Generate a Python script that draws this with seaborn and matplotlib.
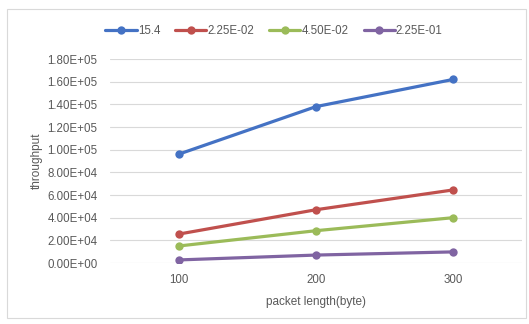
import matplotlib
matplotlib.use("Agg")
from matplotlib import pyplot as plt
from matplotlib.ticker import FuncFormatter
from matplotlib.patches import Rectangle
import seaborn as sns
import pandas as pd

# dados
packet_length = ["100", "200", "300"]
series_names = ["15.4", "2.25E-02", "4.50E-02", "2.25E-01"]
thr_154 = [96000, 138000, 162000]
thr_225e2 = [25500, 47000, 64500]
thr_450e2 = [15000, 28500, 40000]
thr_225e1 = [2700, 7000, 9800]
cores = ["#4472C4", "#C0504D", "#9BBB59", "#8064A2"]

df = pd.DataFrame({
    "packet length(byte)": packet_length * 4,
    "throughput": thr_154 + thr_225e2 + thr_450e2 + thr_225e1,
    "serie": [s for s in series_names for _ in packet_length],
})

sns.set_style("white")
plt.rcParams["font.family"] = ["Liberation Sans", "DejaVu Sans"]
cinza = "#595959"

fig = plt.figure(figsize=(5.29, 3.24), dpi=100)
ax = fig.add_axes([110 / 529, 1 - 263 / 324, 412 / 529, 204 / 324])

sns.lineplot(data=df, x="packet length(byte)", y="throughput", hue="serie",
             hue_order=series_names, palette=cores, marker="o", markersize=6,
             markeredgewidth=0, linewidth=2.3, sort=False, ax=ax)

ax.set_xlim(-0.5, 2.5)
ax.set_ylim(0, 180000)
ax.set_yticks(range(0, 180001, 20000))
ax.yaxis.set_major_formatter(FuncFormatter(lambda v, p: f"{v:.2E}"))
ax.grid(axis="y", color="#D9D9D9", linewidth=0.8)
ax.set_axisbelow(True)
for s in ax.spines.values():
    s.set_visible(False)
ax.tick_params(axis="both", length=0, labelsize=8.3, colors=cinza, pad=9)
ax.tick_params(axis="x", pad=8)
ax.set_xlabel("packet length(byte)", fontsize=8.5, color=cinza, labelpad=7)
ax.set_ylabel("throughput", fontsize=8.5, color=cinza, labelpad=3)

handles, labels = ax.get_legend_handles_labels()
ax.legend(handles, labels, loc="center", bbox_to_anchor=(274 / 529, 1 - 31 / 324),
          bbox_transform=fig.transFigure, ncol=4, frameon=False, fontsize=8.3,
          handlelength=2.7, handletextpad=0.1, columnspacing=1.3, labelcolor=cinza)

# borda da area do grafico
fig.patches.append(Rectangle((7 / 529, 1 - 318 / 324), 519 / 529, 309 / 324,
                             transform=fig.transFigure, fill=False,
                             edgecolor="#D9D9D9", linewidth=0.8))

fig.savefig("out.png", dpi=100)
